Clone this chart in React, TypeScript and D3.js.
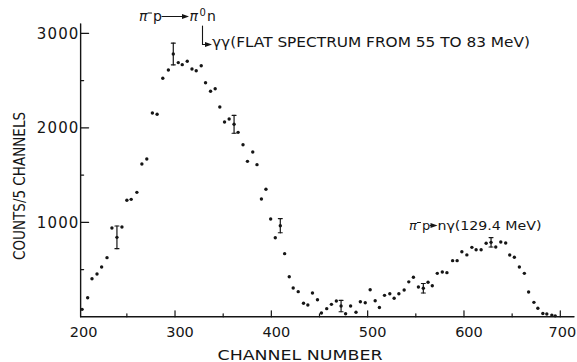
import { useRef, useEffect } from 'react';
import * as d3 from 'd3';

// channel number and counts / 5 channels
const channels = [
  203.5, 209.3, 213.8, 219, 223.8, 229.4, 234.5, 239.7, 244.9, 250,
  254.5, 260.4, 265.6, 270.7, 276.5, 281.4, 287.3, 293.1, 298.2, 303.4,
  307.5, 312.7, 317.6, 322, 327.2, 331.7, 336.9, 341.7, 346.5, 351.4,
  356.2, 361.3, 365.5, 370.6, 375.2, 380.7, 385.1, 389.7, 394.4, 399.3,
  404.1, 409.3, 413.8, 418.6, 422.7, 427.9, 433.4, 437.9, 442.7, 447.9,
  452, 457.5, 462.4, 467.5, 472.4, 477.1, 482.3, 487.9, 492.4, 497.5,
  502.6, 507.8, 512.2, 517.5, 523, 527.5, 532.4, 537.9, 542.7, 547.5,
  552.7, 557.8, 562.7, 567.1, 572.3, 577.5, 582.3, 588.2, 592.9, 597.8,
  603, 608.2, 612.6, 617.8, 623, 628.1, 633, 638.2, 643.3, 647.5,
  652.3, 657.5, 662.7, 667.1, 672.6, 676.7, 681.9, 686, 691.2, 694.7,
];
const counts = [
  79, 202, 403, 453, 527, 626, 940, 841, 950, 1233,
  1243, 1317, 1617, 1670, 2157, 2143, 2524, 2612, 2781, 2690,
  2668, 2704, 2622, 2604, 2657, 2477, 2386, 2414, 2220, 2061,
  2093, 2037, 1952, 1821, 1645, 1744, 1610, 1247, 1349, 1035,
  837, 964, 668, 424, 305, 266, 143, 125, 252, 181,
  40, 86, 132, 167, 114, 33, 114, 48, 160, 149,
  287, 170, 98, 227, 244, 196, 244, 284, 370, 418,
  315, 302, 365, 329, 460, 474, 467, 594, 594, 689,
  655, 735, 710, 710, 778, 788, 739, 792, 781, 654,
  630, 527, 460, 262, 153, 90, 35, 30, 18, 10,
];
// points that carry an error bar (index into the arrays above) and half-length
const errIdx = [7, 18, 31, 41, 54, 71, 85];
const errSize = [120, 115, 95, 75, 60, 50, 50];

const xMajor = [300, 400, 500, 600, 700];
const xLabels = [200, 300, 400, 500, 600, 700];
const xMinor = [250, 350, 450, 550, 650];
const yMajor = [1000, 2000, 3000];
const yMinor = [500, 1500, 2500];

const INK = '#151515';
const FONT = '"DejaVu Sans", Arial, sans-serif';

export default function App() {
  const svgRef = useRef<SVGSVGElement>(null);

  useEffect(() => {
    if (!svgRef.current) return;
    const svg = d3.select(svgRef.current);
    svg.selectAll('*').remove();

    const x = d3.scaleLinear().domain([200, 700]).range([78.7, 560.3]);
    const y = d3.scaleLinear().domain([0, 3000]).range([316.8, 33.3]);
    const x0 = x(202);
    const y0 = y(0);

    const g = svg.append('g').attr('stroke-linecap', 'round');

    // axis lines
    g.append('line').attr('x1', x0).attr('x2', 574).attr('y1', y0).attr('y2', y0)
      .attr('stroke', INK).attr('stroke-width', 1.4);
    g.append('line').attr('x1', x0).attr('x2', x0).attr('y1', y0).attr('y2', y(3100))
      .attr('stroke', INK).attr('stroke-width', 1.4);

    // x ticks (pointing up), labels below
    g.selectAll('.xmaj').data(xMajor).join('line')
      .attr('x1', (d) => x(d)).attr('x2', (d) => x(d)).attr('y1', y0).attr('y2', y0 - 6)
      .attr('stroke', INK).attr('stroke-width', 1.2);
    g.selectAll('.xmin').data(xMinor).join('line')
      .attr('x1', (d) => x(d)).attr('x2', (d) => x(d)).attr('y1', y0).attr('y2', y0 - 3)
      .attr('stroke', INK).attr('stroke-width', 1.2);
    g.selectAll('.xlab').data(xLabels).join('text')
      .attr('x', (d) => x(d) + (d === 700 ? 2 : 5)).attr('y', 337).attr('text-anchor', 'middle')
      .attr('font-family', FONT).attr('font-size', 14.5).attr('fill', INK)
      .text((d) => d);

    // y ticks (pointing right), labels left
    g.selectAll('.ymaj').data(yMajor).join('line')
      .attr('x1', x0).attr('x2', x0 + 8).attr('y1', (d) => y(d)).attr('y2', (d) => y(d))
      .attr('stroke', INK).attr('stroke-width', 1.2);
    g.selectAll('.ymin').data(yMinor).join('line')
      .attr('x1', x0).attr('x2', x0 + 3).attr('y1', (d) => y(d)).attr('y2', (d) => y(d))
      .attr('stroke', INK).attr('stroke-width', 1.2);
    g.selectAll('.ylab').data(yMajor).join('text')
      .attr('x', x0 - 1).attr('y', (d) => y(d) + 5.5).attr('text-anchor', 'end')
      .attr('font-family', FONT).attr('font-size', 15).attr('letter-spacing', 1.2).attr('fill', INK)
      .text((d) => d);

    // axis titles
    g.append('text').attr('x', 300).attr('y', 360).attr('text-anchor', 'middle')
      .attr('font-family', FONT).attr('font-size', 14.5).attr('fill', INK)
      .attr('textLength', 165).attr('lengthAdjust', 'spacingAndGlyphs')
      .text('CHANNEL NUMBER');
    g.append('text').attr('transform', 'translate(25,186) rotate(-90)').attr('text-anchor', 'middle')
      .attr('font-family', FONT).attr('font-size', 15.5).attr('fill', INK)
      .attr('textLength', 148).attr('lengthAdjust', 'spacingAndGlyphs')
      .text('COUNTS/5 CHANNELS');

    // data points
    const pts = channels.map((c, i) => [c, counts[i]] as [number, number]);
    g.selectAll('.pt').data(pts).join('circle')
      .attr('cx', (d) => x(d[0])).attr('cy', (d) => y(d[1])).attr('r', 1.7).attr('fill', INK);

    // error bars
    errIdx.forEach((idx, k) => {
      const cx = x(channels[idx]);
      const lo = y(counts[idx] - errSize[k]);
      const hi = y(counts[idx] + errSize[k]);
      g.append('line').attr('x1', cx).attr('x2', cx).attr('y1', lo).attr('y2', hi)
        .attr('stroke', INK).attr('stroke-width', 1.2);
      [lo, hi].forEach((yy) => {
        g.append('line').attr('x1', cx - 2).attr('x2', cx + 2).attr('y1', yy).attr('y2', yy)
          .attr('stroke', INK).attr('stroke-width', 1.1);
      });
    });

    const arrow = (x1: number, x2: number, yy: number) => {
      g.append('line').attr('x1', x1).attr('x2', x2 - 5).attr('y1', yy).attr('y2', yy)
        .attr('stroke', INK).attr('stroke-width', 1.1);
      g.append('path').attr('d', `M${x2},${yy}L${x2 - 7},${yy - 2.6}L${x2 - 7},${yy + 2.6}Z`).attr('fill', INK);
    };
    const txt = (tx: number, ty: number, s: string, size = 14, italic = false) =>
      g.append('text').attr('x', tx).attr('y', ty).attr('font-family', FONT)
        .attr('font-size', size).attr('fill', INK).attr('font-style', italic ? 'italic' : 'normal').text(s);
    const dash = (x1: number, x2: number, yy: number) =>
      g.append('line').attr('x1', x1).attr('x2', x2).attr('y1', yy).attr('y2', yy)
        .attr('stroke', INK).attr('stroke-width', 1.2);

    // pi- p -> pi0 n
    txt(139, 21, 'π', 14, true);
    dash(148, 151.5, 13);
    txt(153, 21, 'p', 14);
    arrow(162, 189, 16.5);
    txt(189.5, 21, 'π', 14, true);
    txt(199.5, 15.5, '0', 10);
    txt(207, 21, 'n', 14);
    g.append('line').attr('x1', 202.5).attr('x2', 202.5).attr('y1', 26).attr('y2', 44.5)
      .attr('stroke', INK).attr('stroke-width', 1.1);
    arrow(202.5, 212, 44.5);
    g.append('text').attr('x', 212).attr('y', 46.5).attr('font-family', FONT).attr('font-size', 14)
      .attr('fill', INK).attr('textLength', 318).attr('lengthAdjust', 'spacingAndGlyphs')
      .text('γγ(FLAT SPECTRUM FROM 55 TO 83 MeV)');

    // pi- p -> n gamma
    txt(409, 230, 'π', 13, true);
    dash(417.5, 420.5, 222.5);
    txt(422, 230, 'p', 13);
    arrow(430, 437.5, 225.5);
    g.append('text').attr('x', 437.5).attr('y', 230).attr('font-family', FONT).attr('font-size', 13)
      .attr('fill', INK).attr('textLength', 104).attr('lengthAdjust', 'spacingAndGlyphs')
      .text('nγ(129.4 MeV)');
  }, []);

  return (
    <svg
      ref={svgRef}
      width={577}
      height={362}
      style={{ position: 'absolute', left: 0, top: 0, background: '#fff', display: 'block' }}
    />
  );
}
